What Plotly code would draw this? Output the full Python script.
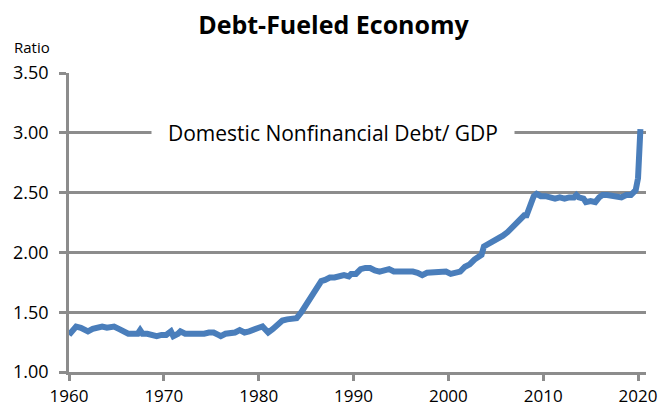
import plotly.graph_objects as go

# Decimal years (quarterly-ish readings from the chart)
years = [
    1960.0, 1960.25, 1960.5, 1960.75, 1961.25, 1961.75, 1962.0, 1962.5, 1963.0, 1963.5,
    1964.0, 1964.5, 1964.75, 1965.25, 1965.75, 1966.25, 1966.75, 1967.25, 1967.5, 1967.75,
    1968.25, 1968.75, 1969.25, 1969.75, 1970.25, 1970.75, 1971.0, 1971.5, 1971.75, 1972.25,
    1972.75, 1973.25, 1973.75, 1974.25, 1974.75, 1975.25, 1975.75, 1976.0, 1976.5, 1977.0,
    1977.5, 1978.0, 1978.5, 1979.0, 1979.5, 1980.0, 1980.4, 1980.75, 1981.0, 1981.5,
    1982.0, 1982.5, 1983.0, 1983.5, 1984.0, 1984.5, 1985.0, 1985.4, 1985.75, 1986.25,
    1986.6, 1987.0, 1987.5, 1988.0, 1988.5, 1989.0, 1989.5, 1989.75, 1990.25, 1990.75,
    1991.25, 1991.75, 1992.25, 1992.75, 1993.25, 1993.75, 1994.25, 1994.75, 1995.25, 1995.75,
    1996.25, 1996.75, 1997.25, 1997.75, 1998.25, 1998.75, 1999.25, 1999.75, 2000.25, 2000.75,
    2001.25, 2001.75, 2002.25, 2002.75, 2003.25, 2003.5, 2003.75, 2004.25, 2004.75, 2005.25,
    2005.75, 2006.25, 2006.75, 2007.25, 2007.75, 2008.0, 2008.25, 2008.6, 2009.0, 2009.3,
    2009.75, 2010.25, 2010.75, 2011.25, 2011.75, 2012.25, 2012.75, 2013.25, 2013.5, 2013.75,
    2014.25, 2014.5, 2015.0, 2015.5, 2015.9, 2016.25, 2016.75, 2017.25, 2017.75, 2018.25,
    2018.75, 2019.25, 2019.5, 2019.75, 2020.0, 2020.25,
]

debt_to_gdp = [
    1.31, 1.33, 1.36, 1.38, 1.37, 1.35, 1.34, 1.36, 1.37, 1.38,
    1.37, 1.37, 1.38, 1.36, 1.34, 1.32, 1.32, 1.32, 1.35, 1.32,
    1.32, 1.31, 1.30, 1.31, 1.31, 1.34, 1.30, 1.32, 1.34, 1.32,
    1.32, 1.31, 1.32, 1.32, 1.33, 1.33, 1.31, 1.30, 1.32, 1.32,
    1.33, 1.35, 1.33, 1.34, 1.36, 1.37, 1.38, 1.34, 1.33, 1.36,
    1.40, 1.43, 1.44, 1.45, 1.45, 1.50, 1.56, 1.62, 1.67, 1.72,
    1.76, 1.77, 1.79, 1.79, 1.80, 1.81, 1.80, 1.82, 1.82, 1.86,
    1.87, 1.87, 1.85, 1.84, 1.85, 1.86, 1.84, 1.84, 1.85, 1.85,
    1.84, 1.83, 1.81, 1.83, 1.83, 1.84, 1.84, 1.84, 1.82, 1.83,
    1.84, 1.88, 1.90, 1.94, 1.97, 1.98, 2.05, 2.07, 2.09, 2.11,
    2.14, 2.17, 2.21, 2.24, 2.28, 2.31, 2.31, 2.40, 2.47, 2.49,
    2.47, 2.47, 2.46, 2.45, 2.46, 2.45, 2.46, 2.46, 2.48, 2.46,
    2.45, 2.42, 2.43, 2.42, 2.46, 2.48, 2.48, 2.47, 2.47, 2.46,
    2.48, 2.48, 2.50, 2.52, 2.62, 3.03,
]

x_ticks = [1960, 1970, 1980, 1990, 2000, 2010, 2020]
y_ticks = [1.0, 1.5, 2.0, 2.5, 3.0, 3.5]

series_name = "Domestic Nonfinancial Debt/ GDP"
title_text = "Debt-Fueled Economy"
y_label = "Ratio"

FONT = "Open Sans"
GRID = "#8c8c8c"

fig = go.Figure()
fig.add_trace(go.Scatter(
    x=years, y=debt_to_gdp, mode="lines", name=series_name,
    line=dict(color="#4a7ebb", width=6), showlegend=False,
))

fig.update_layout(
    width=663, height=407,
    margin=dict(l=69, r=17, t=73, b=35),
    paper_bgcolor="white", plot_bgcolor="white",
    font=dict(family=FONT, color="black"),
    title=dict(text="<b>" + title_text + "</b>", x=0.503, xanchor="center",
               y=1 - 25 / 407, yanchor="middle", font=dict(family=FONT, size=25, color="black")),
)

fig.update_xaxes(
    range=[1960, 2020.84], tickmode="array", tickvals=x_ticks,
    ticktext=[str(t) for t in x_ticks],
    showgrid=False, zeroline=False, automargin=False,
    showline=True, linecolor=GRID, linewidth=2.5,
    ticks="outside", ticklen=6, tickwidth=2.5, tickcolor=GRID,
    ticklabelstandoff=1,
    tickfont=dict(family=FONT, size=17, color="black"),
)
fig.update_yaxes(
    range=[1.0, 3.5], tickmode="array", tickvals=y_ticks,
    ticktext=["%.2f" % t for t in y_ticks],
    showgrid=True, gridcolor=GRID, gridwidth=2.5, zeroline=False, automargin=False,
    showline=True, linecolor=GRID, linewidth=2.5,
    ticks="outside", ticklen=7, tickwidth=2.5, tickcolor=GRID,
    ticklabelstandoff=7,
    tickfont=dict(family=FONT, size=18, color="black"),
)

fig.add_annotation(
    text=series_name, xref="paper", yref="y", x=(333 - 69) / (646 - 69), y=3.0,
    xanchor="center", yanchor="middle", showarrow=False,
    bgcolor="white", borderpad=16,
    font=dict(family=FONT, size=21, color="black"),
)
fig.add_annotation(
    text=y_label, xref="paper", yref="paper", x=(32 - 69) / (646 - 69), y=1 + 26 / (407 - 108),
    xanchor="center", yanchor="middle", showarrow=False,
    font=dict(family=FONT, size=15, color="black"),
)

fig.write_html("out.html", config={"displayModeBar": False},
               post_script="document.body.style.margin='0';document.body.style.padding='0';")
